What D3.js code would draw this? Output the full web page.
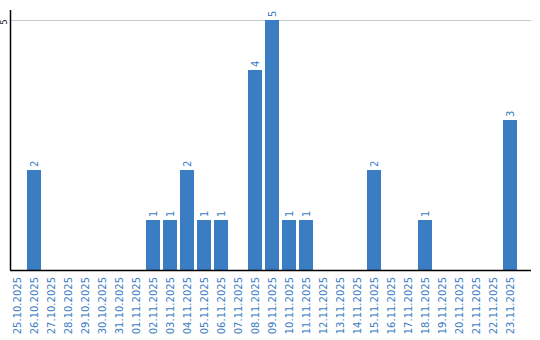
<!DOCTYPE html>
<html>
<head>
<meta charset="utf-8">
<script src="https://cdn.jsdelivr.net/npm/d3@7"></script>
<style>
  body { margin: 0; background: #fff; }
  text { font-family: "DejaVu Sans", sans-serif; }
</style>
</head>
<body>
<svg id="chart"></svg>
<script>
const width = 540;
const height = 340;

const dates = [
    "25.10.2025", "26.10.2025", "27.10.2025", "28.10.2025", "29.10.2025",
    "30.10.2025", "31.10.2025", "01.11.2025", "02.11.2025", "03.11.2025",
    "04.11.2025", "05.11.2025", "06.11.2025", "07.11.2025", "08.11.2025",
    "09.11.2025", "10.11.2025", "11.11.2025", "12.11.2025", "13.11.2025",
    "14.11.2025", "15.11.2025", "16.11.2025", "17.11.2025", "18.11.2025",
    "19.11.2025", "20.11.2025", "21.11.2025", "22.11.2025", "23.11.2025"
];
const counts = [0, 2, 0, 0, 0, 0, 0, 0, 1, 1, 2, 1, 1, 0, 4, 5, 1, 1, 0, 0, 0, 2, 0, 0, 1, 0, 0, 0, 0, 3];
const yTicks = [5];

const barColor = "#3b7dc3";
const textColor = "#3b7dc3";

const data = dates.map(function(d, i) { return {date: d, value: counts[i]}; });

const svg = d3.select("#chart")
    .attr("width", width)
    .attr("height", height);

const x = d3.scaleBand()
    .domain(dates)
    .range([8.5, 518.5])
    .paddingInner(0.176)
    .paddingOuter(0.088);

const y = d3.scaleLinear()
    .domain([0, 5])
    .range([270, 20]);

// gridline
svg.append("g")
    .selectAll("line")
    .data(yTicks)
    .enter().append("line")
    .attr("x1", 10).attr("x2", 531)
    .attr("y1", function(d) { return y(d) + 0.5; })
    .attr("y2", function(d) { return y(d) + 0.5; })
    .style("stroke", "#c8c8c8");

// bars
svg.append("g")
    .selectAll("rect")
    .data(data.filter(function(d) { return d.value > 0; }))
    .enter().append("rect")
    .attr("x", function(d) { return x(d.date); })
    .attr("y", function(d) { return y(d.value); })
    .attr("width", x.bandwidth())
    .attr("height", function(d) { return y(0) - y(d.value); })
    .style("fill", barColor);

// value labels
svg.append("g")
    .selectAll("text")
    .data(data.filter(function(d) { return d.value > 0; }))
    .enter().append("text")
    .attr("transform", function(d) {
        return "translate(" + (x(d.date) + x.bandwidth() / 2 + 3.5) + "," + (y(d.value) - 3) + ") rotate(-90)";
    })
    .style("font-size", "10px")
    .style("fill", textColor)
    .text(function(d) { return d.value; });

// x axis labels
svg.append("g")
    .selectAll("text")
    .data(dates)
    .enter().append("text")
    .attr("transform", function(d) {
        return "translate(" + (x(d) + x.bandwidth() / 2 + 3.5) + ",277) rotate(-90)";
    })
    .attr("text-anchor", "end")
    .style("font-size", "10px")
    .style("fill", textColor)
    .text(function(d) { return d; });

// y tick labels
svg.append("g")
    .selectAll("text")
    .data(yTicks)
    .enter().append("text")
    .attr("transform", function(d) { return "translate(6.5," + (y(d) + 2) + ") rotate(-90)"; })
    .attr("text-anchor", "middle")
    .style("font-size", "8px")
    .style("fill", "#111")
    .text(function(d) { return d; });

// axis lines
svg.append("line")
    .attr("x1", 10.5).attr("x2", 10.5)
    .attr("y1", 10).attr("y2", 270)
    .style("stroke", "#000")
    .style("stroke-width", 1.5);
svg.append("line")
    .attr("x1", 10).attr("x2", 531)
    .attr("y1", 270.5).attr("y2", 270.5)
    .style("stroke", "#000")
    .style("stroke-width", 1.5);
</script>
</body>
</html>
